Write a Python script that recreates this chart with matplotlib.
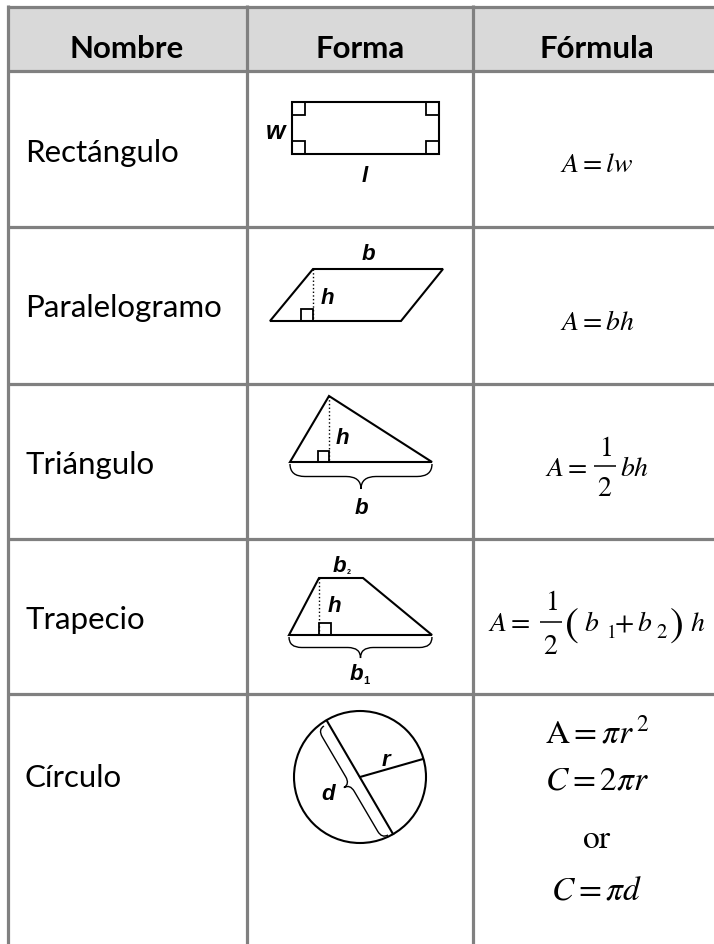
import numpy as np
import matplotlib.pyplot as plt
from matplotlib.patches import Polygon, Rectangle, Circle, PathPatch
from matplotlib.path import Path

plt.rcParams['mathtext.fontset'] = 'stix'

# table content
headers = ['Nombre', 'Forma', 'Fórmula']
names = ['Rectángulo', 'Paralelogramo', 'Triángulo', 'Trapecio', 'Círculo']
simple_formulas = [r'$A=lw$', r'$A=bh$']
circle_formulas = [r'$\mathrm{A}=\pi r^{\,2}$', r'$C=2\pi r$', r'$\mathrm{or}$', r'$C=\pi d$']
half = ('1', '2')

# layout in pixels (y grows downward)
W, H = 714, 945
col_edges = [8, 247, 473]
row_edges = [8, 72, 228, 385, 540, 695]
header_x = [127, 360, 597]
name_base = [162, 317, 474, 629, 787]
simple_y = [164, 322]
circle_y = [733, 780, 838, 890]
FX = 597

# shape geometry (pixels)
rect_box = (292, 103, 439, 155)
para_pts = [(270, 322), (313, 270), (443, 270), (401, 322)]
tri_pts = [(290, 463), (329, 397), (432, 463)]
trap_pts = [(289, 636), (319, 579), (363, 579), (432, 636)]
circ_c, circ_r = (360, 778), 66
diam = [(327, 722), (393, 835)]
radius_end = (423, 760)

GRID = '#808080'
fig = plt.figure(figsize=(7.14, 9.45), dpi=100)
ax = fig.add_axes([0, 0, 1, 1])
ax.set_xlim(0, W)
ax.set_ylim(H, 0)
ax.axis('off')

# header background and grid
ax.add_patch(Rectangle((col_edges[0], row_edges[0]), W - col_edges[0], row_edges[1] - row_edges[0],
                       facecolor='#d9d9d9', edgecolor='none', zorder=0))
for y in row_edges:
    ax.plot([col_edges[0], W], [y, y], color=GRID, lw=2.3, solid_capstyle='butt')
for x in col_edges:
    ax.plot([x, x], [6, H], color=GRID, lw=2.3, solid_capstyle='butt')

for x, h in zip(header_x, headers):
    ax.text(x, 58, h, ha='center', va='baseline', fontsize=22.5, family='Lato', weight='bold')
for yb, nm in zip(name_base, names):
    ax.text(25, yb, nm, ha='left', va='baseline', fontsize=22.5, family='Lato')

FS = 20
for f, y in zip(simple_formulas, simple_y):
    ax.text(FX, y, f, ha='center', va='center', fontsize=FS)
for f, y in zip(circle_formulas, circle_y):
    ax.text(FX, y, f, ha='center', va='center', fontsize=24)


def fraction(x, y, half_w, dy):
    ax.hlines(y, x - half_w, x + half_w, colors='black', linewidth=1.1, zorder=10)
    ax.text(x, y - dy, '$%s$' % half[0], ha='center', va='center', fontsize=FS)
    ax.text(x, y + dy + 2, '$%s$' % half[1], ha='center', va='center', fontsize=FS)


def mt(x, yb, s, ha='left', size=FS):
    ax.text(x, yb, '$%s$' % s, ha=ha, va='baseline', fontsize=size)


# A = 1/2 bh
mt(545, 476, 'A=')
fraction(605, 467, 11, 19)
mt(620, 476, 'bh')

# A = 1/2 (b1 + b2) h
mt(488, 631, 'A=')
fraction(551, 623, 11, 21)
ax.text(571, 624, r'$($', ha='center', va='center', fontsize=30)
mt(584, 631, 'b')
mt(606, 638, r'\mathrm{1}', size=14)
mt(624, 631, '+', ha='center')
mt(637, 631, 'b')
mt(656, 638, r'\mathrm{2}', size=15)
ax.text(676, 624, r'$)$', ha='center', va='center', fontsize=30)
mt(690, 631, 'h')

LW = 1.5
lab = dict(family='Liberation Sans', weight='bold', style='italic', ha='center', va='center', fontsize=16)


def square(x0, y0, s=12):
    ax.add_patch(Rectangle((x0, y0), s, s, fill=False, lw=1.3, edgecolor='black'))


def brace(p0, p1, depth, lw=1.0):
    p0 = np.array(p0, float)
    p1 = np.array(p1, float)
    L = np.linalg.norm(p1 - p0)
    t = (p1 - p0) / L
    n = np.array([-t[1], t[0]])
    q = min(0.12 * L, depth * 0.6)
    h = depth
    loc = [(0, 0), (0, h / 2), (q, h / 2), (L / 2 - q, h / 2), (L / 2, h / 2), (L / 2, h),
           (L / 2, h / 2), (L / 2 + q, h / 2), (L - q, h / 2), (L, h / 2), (L, 0)]
    codes = [Path.MOVETO, Path.CURVE3, Path.CURVE3, Path.LINETO, Path.CURVE3, Path.CURVE3,
             Path.CURVE3, Path.CURVE3, Path.LINETO, Path.CURVE3, Path.CURVE3]
    verts = [p0 + u * t + v * n for u, v in loc]
    ax.add_patch(PathPatch(Path(verts, codes), fill=False, lw=lw, edgecolor='black'))


# rectangle
x0, y0, x1, y1 = rect_box
ax.add_patch(Rectangle((x0, y0), x1 - x0, y1 - y0, fill=False, lw=LW, edgecolor='black'))
for sx, sy in [(x0, y0), (x1 - 13, y0), (x0, y1 - 13), (x1 - 13, y1 - 13)]:
    square(sx, sy, 13)
ax.text(276, 132, 'w', **dict(lab, fontsize=18))
ax.text(365, 176, 'l', **lab)

# parallelogram
ax.add_patch(Polygon(para_pts, closed=True, fill=False, lw=LW, edgecolor='black'))
ax.plot([para_pts[1][0]] * 2, [para_pts[1][1], para_pts[0][1]], color='black', lw=1.0, ls=':')
square(para_pts[1][0] - 12, para_pts[0][1] - 12)
ax.text(368, 255, 'b', **lab)
ax.text(327, 299, 'h', **lab)

# triangle
ax.add_patch(Polygon(tri_pts, closed=True, fill=False, lw=LW, edgecolor='black'))
ax.plot([tri_pts[1][0]] * 2, [tri_pts[1][1], tri_pts[0][1]], color='black', lw=1.0, ls=':')
square(tri_pts[1][0] - 11, tri_pts[0][1] - 11, 11)
brace((tri_pts[0][0], 465), (tri_pts[2][0], 465), 25)
ax.text(342, 438, 'h', **lab)
ax.text(361, 508, 'b', **lab)

# trapezoid
ax.add_patch(Polygon(trap_pts, closed=True, fill=False, lw=LW, edgecolor='black'))
ax.plot([trap_pts[1][0]] * 2, [trap_pts[1][1], trap_pts[0][1]], color='black', lw=1.0, ls=':')
square(trap_pts[1][0], trap_pts[0][1] - 12)
brace((trap_pts[0][0], 638), (trap_pts[3][0], 638), 21)
ax.text(339, 567, 'b', **lab)
ax.text(349, 572, '2', family='Liberation Sans', weight='bold', fontsize=5, ha='center', va='center')
ax.text(334, 606, 'h', **lab)
ax.text(356, 675, 'b', **lab)
ax.text(366, 681, '1', family='Liberation Sans', weight='bold', fontsize=8, ha='center', va='center')

# circle
ax.add_patch(Circle(circ_c, circ_r, fill=False, lw=LW, edgecolor='black'))
ax.plot([diam[0][0], diam[1][0]], [diam[0][1], diam[1][1]], color='black', lw=LW)
ax.plot([circ_c[0], radius_end[0]], [circ_c[1], radius_end[1]], color='black', lw=LW)
brace((324, 727), (388, 836), 14)
ax.text(386, 761, 'r', **lab)
ax.text(328, 794, 'd', **lab)

fig.savefig('out.png', dpi=100)
